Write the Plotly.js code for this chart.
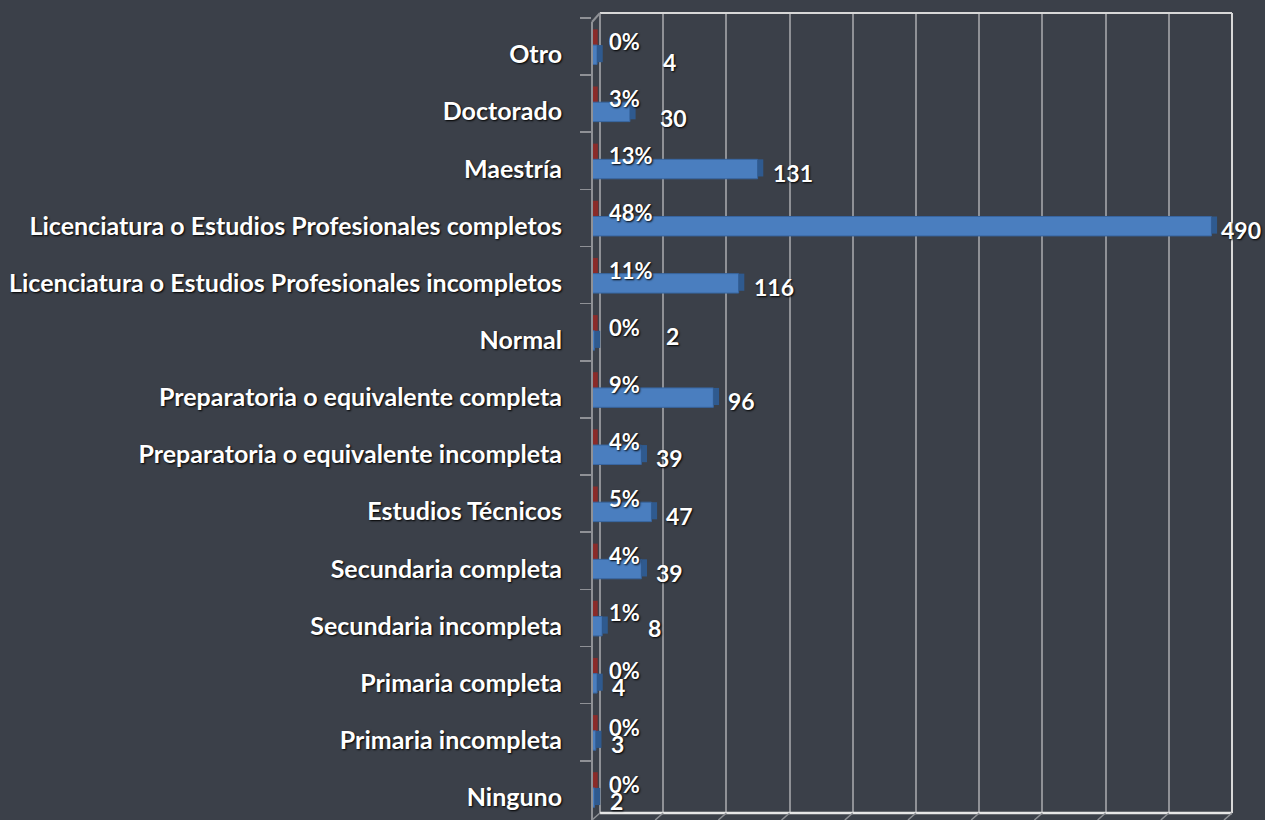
<!DOCTYPE html>
<html>
<head>
<meta charset="utf-8">
<script src="https://cdn.plot.ly/plotly-3.0.1.min.js"></script>
<style>
  html, body { margin: 0; padding: 0; background: #3b4049; }
  #chart { width: 1265px; height: 820px; }
</style>
</head>
<body>
<div id="chart"></div>
<script>
// ---- data (bottom to top) ----
const categories = [
  "Ninguno",
  "Primaria incompleta",
  "Primaria completa",
  "Secundaria incompleta",
  "Secundaria completa",
  "Estudios Técnicos",
  "Preparatoria o equivalente incompleta",
  "Preparatoria o equivalente completa",
  "Normal",
  "Licenciatura o Estudios Profesionales incompletos",
  "Licenciatura o Estudios Profesionales completos",
  "Maestría",
  "Doctorado",
  "Otro"
];
const counts = [2, 3, 4, 8, 39, 47, 39, 96, 2, 116, 490, 131, 30, 4];
const percents = [0, 0, 0, 1, 4, 5, 4, 9, 0, 11, 48, 13, 3, 0];
const gridTicks = [0, 50, 100, 150, 200, 250, 300, 350, 400, 450, 500];

// ---- style ----
const FRONT = -6.3;          // 3D front offset of bars (axis units)
const DEPTH = 4.5;           // 3D side-face depth of bars (axis units)
const XMAX = 500;
const BG = '#3b4049';
const FONT = 'Lato, "Open Sans", sans-serif';
const SHADOW = '1px 1px 2px #000000';
// pixel nudges of the count labels, as placed in the original chart (style only)
const countLabelNudgeX = [0, 0, 0, 31, 0, 0, 0, 0, 56, 0, -5, 0, 15, 51];
const countLabelNudgeY = [0, 0, 0, 2, 0, 0, 0, 0, 8, 0, 0, 0, -2, -4];

const fractions = percents.map(p => p / 100);

const RED_OFF = -0.03, RED_W = 0.33;
const BLUE_OFF = -0.315, BLUE_W = 0.34;

const redFront = {
  type: 'bar', orientation: 'h',
  y: categories, x: fractions, base: FRONT,
  offset: RED_OFF, width: RED_W,
  marker: { color: '#a83a37', line: { width: 0 } },
  hoverinfo: 'skip', showlegend: false
};
const redSide = {
  type: 'bar', orientation: 'h',
  y: categories, x: fractions.map(() => DEPTH), base: fractions.map(f => FRONT + f),
  offset: RED_OFF, width: RED_W,
  marker: { color: '#8a2b29', line: { width: 0 } },
  hoverinfo: 'skip', showlegend: false
};
const blueFront = {
  type: 'bar', orientation: 'h',
  y: categories, x: counts, base: FRONT,
  offset: BLUE_OFF, width: BLUE_W,
  marker: { color: '#4a7ebf', line: { color: '#3866a0', width: 1 } },
  hoverinfo: 'skip', showlegend: false
};
const blueSide = {
  type: 'bar', orientation: 'h',
  y: categories, x: counts.map(() => DEPTH), base: counts.map(v => FRONT + v),
  offset: BLUE_OFF + 0.04, width: BLUE_W - 0.04,
  marker: { color: '#2f5a8f', line: { width: 0 } },
  hoverinfo: 'skip', showlegend: false
};

const annotations = [];
categories.forEach((c, i) => {
  annotations.push({
    x: 0, y: c, xref: 'x', yref: 'y', xanchor: 'left', yanchor: 'middle',
    xshift: 7, yshift: 5, showarrow: false,
    text: percents[i] + '%',
    font: { family: FONT, size: 22, color: '#ffffff', weight: 700, shadow: SHADOW }
  });
  annotations.push({
    x: FRONT + counts[i], y: c, xref: 'x', yref: 'y', xanchor: 'left', yanchor: 'middle',
    xshift: 13 + countLabelNudgeX[i], yshift: -12 + countLabelNudgeY[i], showarrow: false,
    text: String(counts[i]),
    font: { family: FONT, size: 23, color: '#ffffff', weight: 700, shadow: SHADOW }
  });
});

// frame shapes (pixel geometry of plot area: x 592..1232, y 13..813)
const L = 592, R = 33, T = 13, B = 7, W = 1265, H = 820;
const pw = W - L - R, ph = H - T - B;
const px = v => (v - L) / pw;
const py = v => (H - B - v) / ph;
const xToPx = v => L + (v - FRONT) / (XMAX - FRONT) * pw;

const shapes = [];
const frameColor = '#d8d8d8';
const gridColor = '#8f9196';
shapes.push({ type: 'line', xref: 'paper', yref: 'paper', x0: px(xToPx(0)), x1: px(xToPx(XMAX)), y0: 1, y1: 1, line: { color: frameColor, width: 2 } });
shapes.push({ type: 'line', xref: 'paper', yref: 'paper', x0: px(xToPx(0)), x1: px(xToPx(XMAX)), y0: 0, y1: 0, line: { color: '#e6e6e6', width: 2.5 } });
shapes.push({ type: 'line', xref: 'paper', yref: 'paper', x0: px(xToPx(XMAX)), x1: px(xToPx(XMAX)), y0: 0, y1: 1, line: { color: frameColor, width: 2 } });
shapes.push({ type: 'line', xref: 'paper', yref: 'paper', x0: 0, x1: 0, y0: py(820), y1: py(22), line: { color: gridColor, width: 2 } });
shapes.push({ type: 'line', xref: 'paper', yref: 'paper', x0: 0, x1: px(xToPx(0)), y0: py(22), y1: 1, line: { color: gridColor, width: 2 } });
gridTicks.forEach(t => {
  const gx = xToPx(t);
  shapes.push({ type: 'line', xref: 'paper', yref: 'paper', x0: px(gx), x1: px(gx - 8), y0: 0, y1: py(820), line: { color: gridColor, width: 1.5 } });
});

const layout = {
  width: W, height: H,
  paper_bgcolor: BG, plot_bgcolor: BG,
  margin: { l: L, r: R, t: T, b: B, pad: 0 },
  barmode: 'overlay',
  showlegend: false,
  xaxis: {
    range: [FRONT, XMAX],
    tickvals: gridTicks, showticklabels: false, ticks: '',
    showgrid: true, gridcolor: gridColor, gridwidth: 2,
    zeroline: false, showline: false, fixedrange: true
  },
  yaxis: {
    type: 'category',
    categoryorder: 'array', categoryarray: categories,
    range: [-0.5 + 0.086, 13.5 + 0.086],
    showgrid: false, zeroline: false, showline: false,
    ticks: 'outside', tickson: 'boundaries', ticklen: 11, tickwidth: 1.5, tickcolor: gridColor,
    ticklabelshift: 8, ticklabelstandoff: 29,
    tickfont: { family: FONT, size: 25, color: '#ffffff', weight: 700, shadow: SHADOW },
    automargin: false, fixedrange: true
  },
  annotations: annotations,
  shapes: shapes
};

Plotly.newPlot('chart', [redFront, redSide, blueFront, blueSide], layout, { displayModeBar: false, staticPlot: true });
</script>
</body>
</html>
